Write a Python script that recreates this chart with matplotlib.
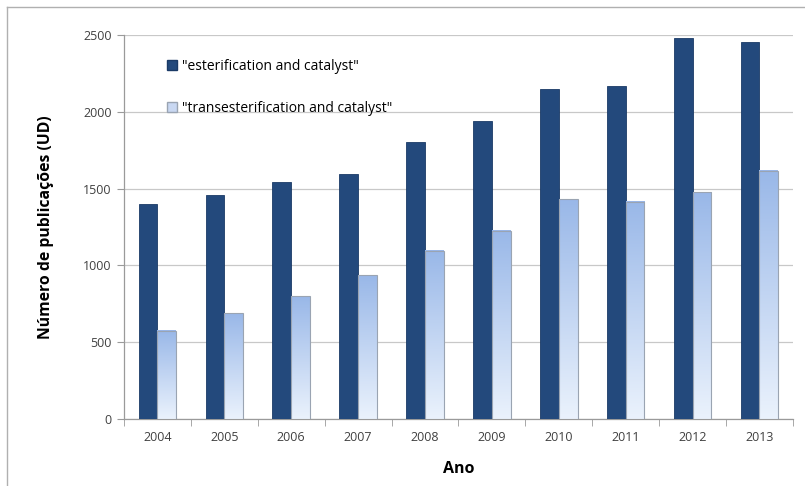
import numpy as np
import matplotlib
matplotlib.use("Agg")
import matplotlib.pyplot as plt
from matplotlib.patches import Patch, Rectangle
from matplotlib.lines import Line2D

plt.rcParams['font.family'] = ['Open Sans', 'DejaVu Sans']

years = ['2004', '2005', '2006', '2007', '2008', '2009', '2010', '2011', '2012', '2013']
esterification = [1400, 1455, 1540, 1595, 1805, 1940, 2150, 2170, 2480, 2455]
transesterification = [575, 690, 800, 937, 1095, 1225, 1430, 1415, 1475, 1615]
series_labels = ['"esterification and catalyst"', '"transesterification and catalyst"']

dark = '#23497C'
light_top = np.array([0.60, 0.72, 0.91])
light_bottom = np.array([0.92, 0.95, 0.99])

fig = plt.figure(figsize=(8.05, 4.86), dpi=100)
ax = fig.add_axes([0.154, 0.138, 0.831, 0.790])

x = np.arange(len(years))
w = 0.28

# dark series: plain bars
ax.bar(x - w / 2, esterification, width=w, color=dark, edgecolor='#1A3A66',
       linewidth=0.6, zorder=3)

# light series: vertical gradient inside each bar
grad = np.linspace(0, 1, 256)[:, None]
cols = light_bottom[None, None, :] * (1 - grad[:, :, None]) + light_top[None, None, :] * grad[:, :, None]
for xi, v in zip(x, transesterification):
    ax.imshow(cols, extent=(xi, xi + w, 0, v), origin='lower', aspect='auto',
              interpolation='bilinear', zorder=3)
    ax.add_patch(Rectangle((xi, 0), w, v, fill=False, edgecolor='#9AA4B2',
                           linewidth=0.8, zorder=4))

ax.set_xlim(-0.5, len(years) - 0.5)
ax.set_ylim(0, 2500)
ax.set_yticks(range(0, 2501, 500))
ax.set_xticks(x)
ax.set_xticklabels(years)
ax.set_xticks(np.arange(-0.5, len(years)), minor=True)
ax.tick_params(axis='x', which='major', length=0, pad=9, labelsize=9, labelcolor='#404040')
ax.tick_params(axis='x', which='minor', length=5, color='#9A9A9A', direction='out')
ax.tick_params(axis='y', length=5, color='#9A9A9A', labelsize=9, labelcolor='#404040', pad=4)

ax.grid(axis='y', color='#C8C8C8', linewidth=0.9, zorder=0)
for s in ['top', 'right']:
    ax.spines[s].set_visible(False)
for s in ['left', 'bottom']:
    ax.spines[s].set_color('#9A9A9A')
    ax.spines[s].set_linewidth(0.9)

ax.set_ylabel('Número de publicações (UD)', fontsize=11.3, fontweight='bold', labelpad=21)
ax.set_xlabel('Ano', fontsize=11.5, fontweight='bold', labelpad=12)

handles = [Patch(facecolor=dark, edgecolor='#1A3A66'),
           Patch(facecolor='#C9D8F2', edgecolor='#9AA4B2')]
ax.legend(handles, series_labels, loc='upper left', bbox_to_anchor=(0.045, 0.97),
          frameon=False, fontsize=10, labelspacing=1.95, handlelength=0.75,
          handleheight=0.75, handletextpad=0.35)

# outer frame lines
fig.add_artist(Line2D([7 / 805, 1], [1 - 7 / 486, 1 - 7 / 486], color='#B0B0B0', linewidth=1))
fig.add_artist(Line2D([7 / 805, 7 / 805], [0, 1 - 7 / 486], color='#B0B0B0', linewidth=1))

fig.savefig('out.png', dpi=100)
